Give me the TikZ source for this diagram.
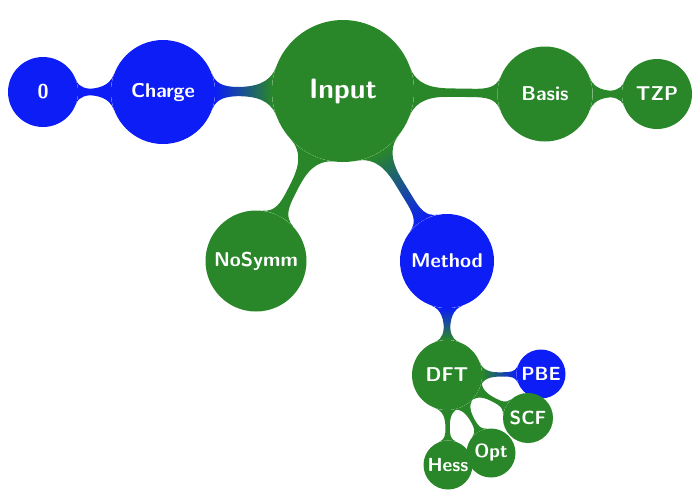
\documentclass[tikz,border=0pt]{standalone}
\usetikzlibrary{mindmap,backgrounds}
\definecolor{mmgreen}{RGB}{41,135,41}
\definecolor{mmblue}{RGB}{12,30,245}
\begin{document}
\begin{tikzpicture}[x=1pt,y=-1pt,
    idea/.style={circle,inner sep=0pt,text=white,font=\sffamily\bfseries},
    rootidea/.style={idea,fill=mmgreen,minimum size=142pt,font=\sffamily\bfseries\fontsize{28}{30}\selectfont},
    big/.style={idea,fill=#1,font=\sffamily\bfseries\fontsize{20}{22}\selectfont},
    mid/.style={idea,fill=#1,minimum size=70pt,font=\sffamily\bfseries\fontsize{20}{22}\selectfont},
    small/.style={idea,fill=#1,minimum size=49pt,font=\sffamily\bfseries\fontsize{19}{21}\selectfont},
    gg/.style={circle connection bar switch color=from (mmgreen) to (mmgreen)},
    gb/.style={circle connection bar switch color=from (mmgreen) to (mmblue)},
    bb/.style={circle connection bar switch color=from (mmblue) to (mmblue)},
    bg/.style={circle connection bar switch color=from (mmblue) to (mmgreen)}]
  \useasboundingbox (0,0) rectangle (700,499);

  \node[rootidea] (input) at (343,91) {Input};
  \node[big=mmblue,minimum size=104pt] (charge) at (163,92) {Charge};
  \node[mid=mmblue] (zero) at (43,92) {0};
  \node[big=mmgreen,minimum size=95pt] (basis) at (545,94) {Basis};
  \node[mid=mmgreen] (tzp) at (657,94) {TZP};
  \node[big=mmgreen,minimum size=101pt] (nosymm) at (256,261) {NoSymm};
  \node[big=mmblue,minimum size=94pt] (method) at (447,261) {Method};
  \node[mid=mmgreen] (dft) at (447,375) {DFT};
  \node[small=mmblue] (pbe) at (541,374) {PBE};
  \node[small=mmgreen,minimum size=50pt] (scf) at (528,418) {SCF};
  \node[small=mmgreen] (opt) at (491,453) {Opt};
  \node[small=mmgreen] (hess) at (448,465) {Hess};

  \begin{scope}[on background layer]
    \path[line width=10pt] (input) to[gb] (charge);
    \path[line width=10pt] (input) to[gg] (basis);
    \path[line width=10pt] (input) to[gg] (nosymm);
    \path[line width=10pt] (input) to[gb] (method);
    \path[line width=6pt] (charge) to[bb] (zero);
    \path[line width=6pt] (basis) to[gg] (tzp);
    \path[line width=7pt] (method) to[bg] (dft);
    \path[line width=4pt] (dft) to[gb] (pbe);
    \path[line width=5pt] (dft) to[gg] (scf);
    \path[line width=5pt] (dft) to[gg] (opt);
    \path[line width=5pt] (dft) to[gg] (hess);
  \end{scope}
\end{tikzpicture}
\end{document}
